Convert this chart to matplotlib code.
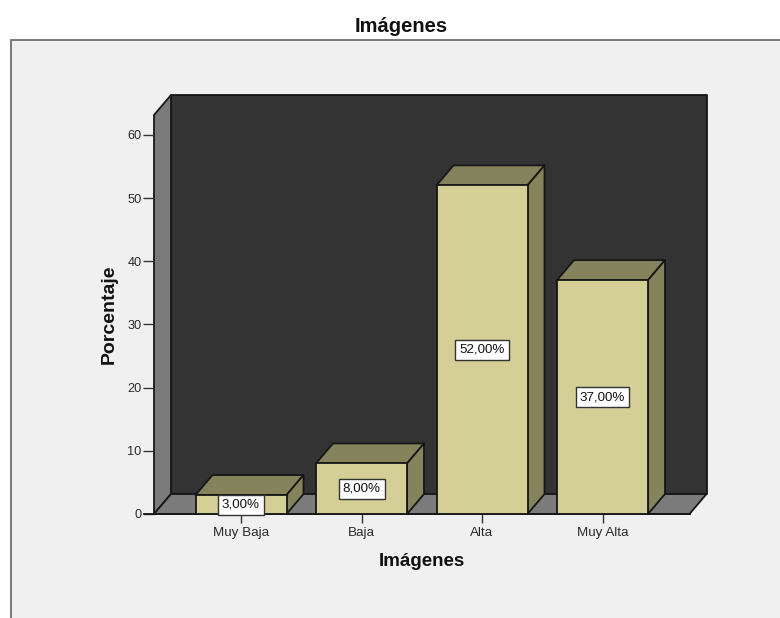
import matplotlib
matplotlib.use("Agg")
import matplotlib.pyplot as plt
from matplotlib.patches import Polygon, Rectangle

plt.rcParams['font.family'] = ['Liberation Sans', 'DejaVu Sans']

categories = ["Muy Baja", "Baja", "Alta", "Muy Alta"]
percentages = [3.0, 8.0, 52.0, 37.0]
y_ticks = [0, 10, 20, 30, 40, 50, 60]

W, H = 780, 618
fig = plt.figure(figsize=(W / 100, H / 100), dpi=100, facecolor="white")

# Grey chart panel, cut off by the right and bottom edges of the figure
fig.add_artist(Rectangle((11 / W, -0.01), 0.99, 1.01 - 40 / H, transform=fig.transFigure,
                         facecolor="#f0f0f0", edgecolor="#6e6e6e", linewidth=1.3, zorder=-1))

# Front plane of the 3D box, in pixels
left, right, floor, top = 154, 689.5, 514, 115
ax = fig.add_axes([left / W, 1 - floor / H, (right - left) / W, (floor - top) / H])
px_per_cat = 120.5
px_per_unit = 6.32
x_first = 241
ax.set_xlim((left - x_first) / px_per_cat, (right - x_first) / px_per_cat)
ax.set_ylim(0, (floor - top) / px_per_unit)
ax.patch.set_visible(False)
for s in ax.spines.values():
    s.set_visible(False)

# Depth offset of the oblique projection, in data units
dx = 17 / px_per_cat
dy = 20 / px_per_unit
x0, x1 = ax.get_xlim()
y1 = ax.get_ylim()[1]
edge = "#161616"
lw = 1.3

def face(points, color, z):
    ax.add_patch(Polygon(points, closed=True, facecolor=color, edgecolor=edge,
                         linewidth=lw, joinstyle="round", zorder=z, clip_on=False))

# Back wall, left wall and floor
face([(x0 + dx, dy), (x1 + dx, dy), (x1 + dx, y1 + dy), (x0 + dx, y1 + dy)], "#333333", 1)
face([(x0, 0), (x0 + dx, dy), (x0 + dx, y1 + dy), (x0, y1)], "#7b7b7b", 1.1)
face([(x0, 0), (x1, 0), (x1 + dx, dy), (x0 + dx, dy)], "#7b7b7b", 1.1)

# Bars: front faces through bar(), then the top and side faces
width = 91 / px_per_cat
xs = list(range(len(categories)))
ax.bar(xs, percentages, width=width, color="#d3cf96", edgecolor=edge, linewidth=lw, zorder=3)
for x, v in zip(xs, percentages):
    l, r = x - width / 2, x + width / 2
    face([(l, v), (r, v), (r + dx, v + dy), (l + dx, v + dy)], "#85835c", 2.9)
    face([(r, 0), (r + dx, dy), (r + dx, v + dy), (r, v)], "#85835c", 2.9)
    ax.text(x, v / 2, f"{v:.2f}%".replace(".", ","), ha="center", va="center",
            fontsize=9.6, color="#111111", zorder=5,
            bbox=dict(boxstyle="square,pad=0.3", facecolor="white", edgecolor="#333333", linewidth=1))

ax.set_xticks(xs, categories)
ax.set_yticks(y_ticks)
ax.tick_params(axis="x", length=6.5, width=1, pad=3, labelsize=9.6, color="#333333", labelcolor="#2a2a2a")
ax.tick_params(axis="y", length=8, width=1, pad=1, labelsize=9.2, color="#333333", labelcolor="#2a2a2a")

# Baseline reaches a little to the left of the box
ax.plot([x0 - 10 / px_per_cat, x1], [0, 0], color=edge, lw=lw, zorder=2, clip_on=False)

fig.text(401 / W, 1 - 26 / H, "Imágenes", ha="center", va="center",
         fontsize=14.5, fontweight="bold", color="#111111")
fig.text(422 / W, 1 - 562 / H, "Imágenes", ha="center", va="center",
         fontsize=13.5, fontweight="bold", color="#111111")
fig.text(109 / W, 1 - 314 / H, "Porcentaje", ha="center", va="center", rotation=90,
         fontsize=14, fontweight="bold", color="#111111")

fig.savefig("out.png", dpi=100, facecolor="white")
